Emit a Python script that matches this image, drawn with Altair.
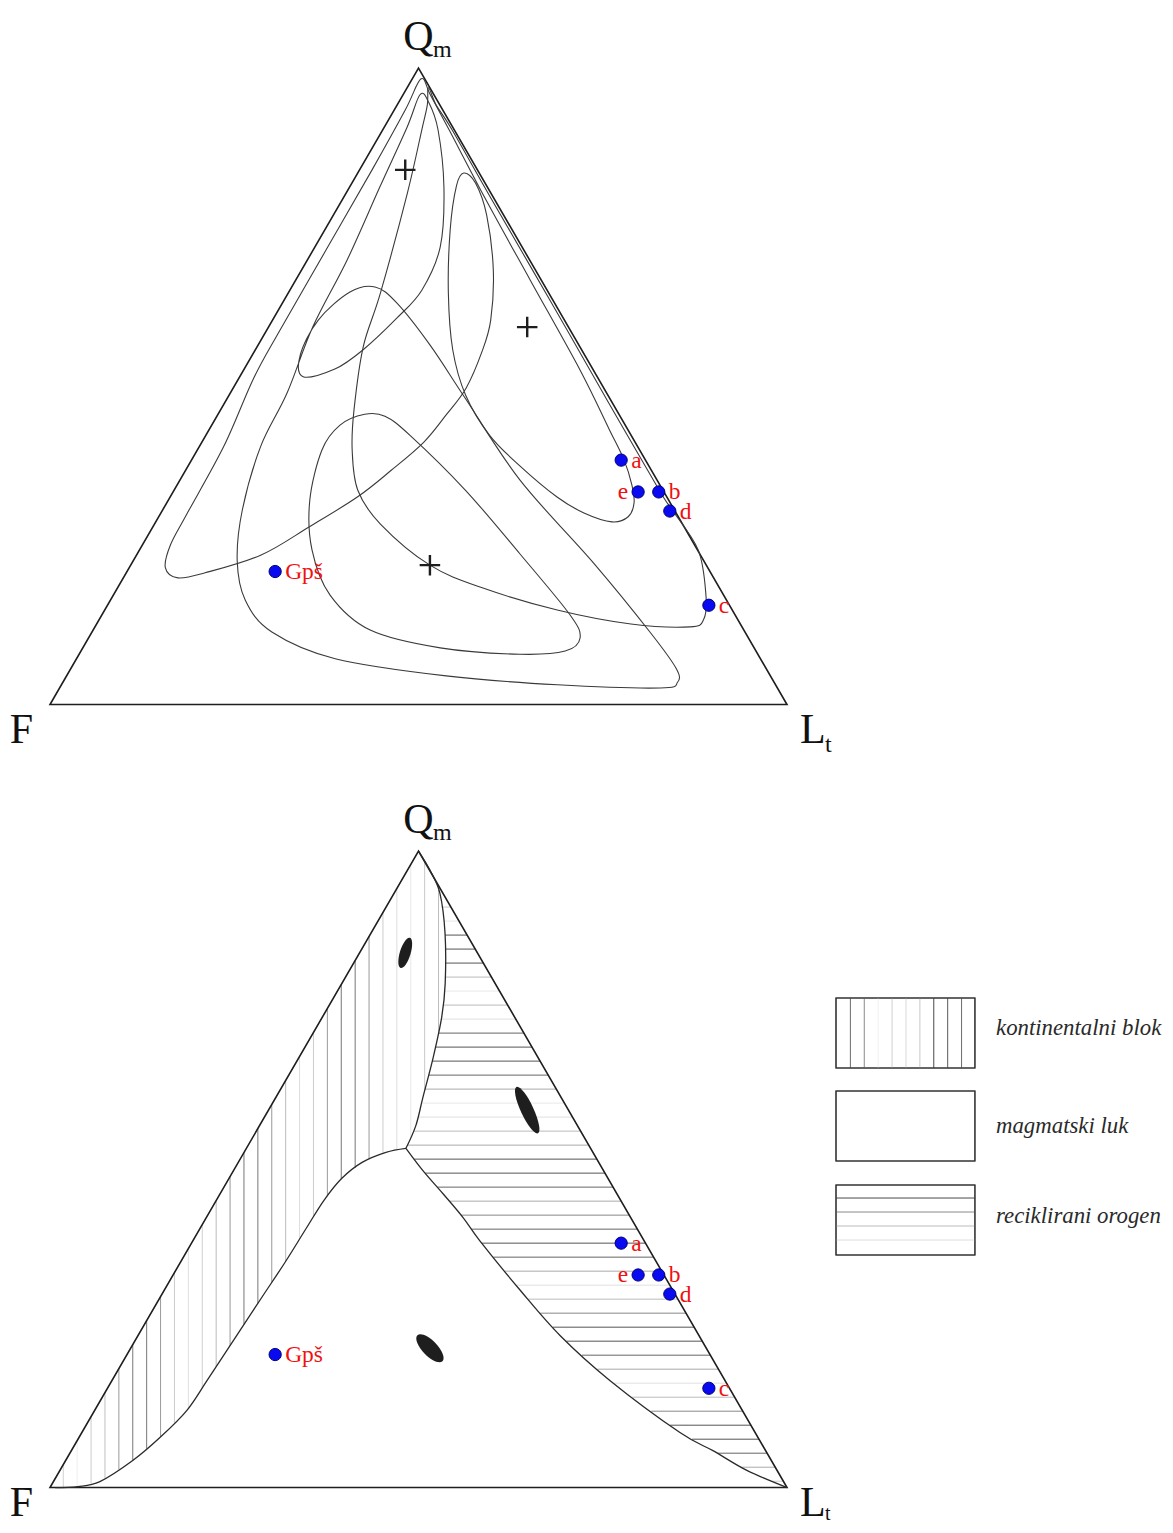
import altair as alt
import numpy as np
import pandas as pd

# ------------------------------------------------------------------ data
# sample compositions in % (F = 100 - Qm - Lt)
SAMPLE_NAMES = ["a", "b", "c", "d", "e", "Gpš"]
SAMPLE_QM = [38.4, 33.4, 15.6, 30.4, 33.4, 20.9]
SAMPLE_LT = [58.3, 65.9, 81.6, 68.9, 63.1, 20.1]
SAMPLE_SIDE = ["right", "right", "right", "right", "left", "right"]

# field means (+ in the upper diagram, black ellipses in the lower one)
MEAN_QM = [84.0, 59.3, 21.9]
MEAN_LT = [6.2, 35.1, 40.6]

# upper diagram: field outlines, (Qm, Lt) in %
FIELD_1 = [(98.3, 1.2), (95.8, 3.7), (90.3, 9.0), (79.3, 19.5), (66.7, 31.8), (52.6, 45.6),
           (43.3, 54.2), (38.4, 58.7), (34.5, 61.7), (31.7, 63.4), (29.5, 63.7), (28.7, 61.9),
           (30.1, 57.4), (32.6, 52.5), (37.5, 45.0), (42.3, 38.5), (48.6, 32.1), (55.7, 26.8),
           (64.7, 21.7), (74.6, 17.0), (81.5, 14.4), (83.5, 14.4), (81.9, 16.8), (76.9, 20.8),
           (68.3, 26.0), (60.4, 29.6), (55.4, 30.9), (49.7, 31.6), (45.5, 31.0), (41.2, 30.1),
           (36.8, 27.9), (32.6, 25.4), (27.9, 21.2), (23.5, 16.9), (20.7, 10.7), (19.9, 7.4),
           (21.5, 4.9), (25.1, 3.8), (29.9, 3.6), (40.6, 3.3), (51.3, 2.0), (58.8, 1.8),
           (71.4, 1.75), (84.0, 1.7), (93.4, 1.5)]
FIELD_2 = [(95.8, 2.3), (90.7, 3.1), (81.3, 4.1), (69.8, 5.4), (59.3, 6.0), (48.9, 7.7),
           (40.6, 8.3), (30.6, 10.8), (22.6, 14.1), (16.4, 18.3), (11.4, 24.4), (7.2, 35.1),
           (4.5, 51.5), (3.1, 67.3), (2.6, 81.5), (3.5, 83.4), (5.7, 82.1), (11.4, 75.7),
           (22.1, 62.8), (35.3, 46.1), (48.2, 32.2), (56.5, 23.3), (63.1, 15.5), (65.6, 11.3),
           (64.8, 8.3), (60.4, 6.2), (54.9, 6.5), (51.5, 8.6), (52.7, 12.3), (55.7, 14.6),
           (60.7, 16.7), (65.1, 17.9), (71.9, 17.0), (81.3, 12.8), (90.3, 7.5), (94.7, 4.0)]
FIELD_3 = [(94.2, 4.1), (90.3, 5.3), (80.4, 8.3), (64.7, 12.5), (56.2, 14.4), (46.3, 18.1),
           (40.0, 21.0), (33.7, 24.9), (28.4, 30.6), (21.9, 40.6), (18.3, 49.6), (14.85, 61.4),
           (12.65, 72.5), (12.2, 80.75), (13.4, 82.0), (17.2, 80.4), (24.3, 75.8), (30.6, 69.1),
           (33.7, 65.8), (47.8, 51.7), (63.6, 36.0), (79.3, 20.3), (90.3, 9.4), (94.2, 5.3),
           (96.9, 2.9)]
FIELD_4 = [(45.6, 19.9), (43.9, 17.4), (40.0, 16.9), (32.1, 19.2), (24.3, 23.4), (17.2, 29.4),
           (11.7, 37.6), (8.9, 48.5), (7.9, 59.8), (8.4, 65.7), (10.45, 66.7), (14.1, 63.5),
           (23.65, 51.95), (33.7, 39.5), (42.3, 27.7), (45.3, 22.8)]

# lower diagram: provenance field boundaries, (Qm, Lt) in %
BOUND_CB_RO = [(100.0, 0.0), (97.0, 3.05), (93.4, 6.2), (87.1, 10.05), (79.25, 14.0),
               (73.9, 16.2), (67.6, 18.2), (61.3, 19.95), (56.9, 21.2), (53.3, 21.65)]
BOUND_CB_MA = [(53.3, 21.65), (52.67, 19.25), (51.1, 16.8), (48.6, 15.3), (45.1, 14.6),
               (40.7, 14.4), (35.4, 14.2), (29.9, 13.8), (24.2, 13.4), (16.8, 12.9),
               (12.1, 12.5), (7.9, 11.0), (4.25, 9.1), (0.94, 6.3), (0.16, 3.7), (0.0, 0.7)]
BOUND_RO_MA = [(53.3, 21.65), (49.8, 25.7), (46.2, 30.2), (42.45, 34.8), (38.8, 38.9),
               (31.0, 48.3), (23.9, 57.25), (16.8, 67.6), (8.65, 81.15), (5.8, 87.05),
               (2.7, 93.2), (0.0, 100.0)]

LEGEND_LABELS = ["kontinentalni blok", "magmatski luk", "reciklirani orogen"]

# ------------------------------------------------------------------ styling / layout
PANEL_DY = 123.02          # vertical shift of lower diagram (plot units)
X_DOMAIN = [-5.699, 151.29]
Y_DOMAIN = [-128.90, 109.43]
SERIF = "Liberation Serif"
LINE_COL = "#3a3a3a"

V_STEP, V_START = 1.886, 1.80
H_STEP, H_START = 2.2, 91.2
V_SHADES = ["#d0d0d0", "#eeeeee", "#cccccc", "#c0c0c0", "#999999", "#777777", "#777777",
            "#999999", "#cccccc", "#e0e0e0", "#d0d0d0", "#bbbbbb", "#999999", "#777777",
            "#777777", "#999999", "#bbbbbb", "#dddddd", "#cccccc", "#999999", "#777777",
            "#777777", "#999999", "#cccccc", "#dddddd", "#e8e8e8", "#c8c8c8", "#bbbbbb"]
H_SHADES = ["#c8c8c8", "#e8e8e8", "#555555", "#555555", "#555555", "#bbbbbb", "#e8e8e8",
            "#bbbbbb", "#e0e0e0", "#666666", "#555555", "#555555", "#666666", "#aaaaaa",
            "#e8e8e8", "#e0e0e0", "#bbbbbb", "#aaaaaa", "#555555", "#555555", "#666666",
            "#aaaaaa", "#888888", "#666666", "#555555", "#666666", "#aaaaaa", "#e0e0e0",
            "#bbbbbb", "#888888", "#555555", "#555555", "#666666", "#aaaaaa", "#e0e0e0",
            "#bbbbbb", "#888888", "#555555", "#555555", "#666666", "#aaaaaa", "#cccccc"]


def tern(qm, lt):
    return lt + qm / 2.0, qm


def panel_y(q, panel):
    return q - PANEL_DY * panel


# ------------------------------------------------------------------ frames
rows = []
for p in (0, 1):
    for i, (q, l) in enumerate([(0, 0), (0, 100), (100, 0)]):
        X, Q = tern(q, l)
        rows.append(dict(panel=p, i=i, X=X, Y=panel_y(Q, p)))
tri_df = pd.DataFrame(rows)

rows = []
for name, pts in [("f1", FIELD_1), ("f2", FIELD_2), ("f3", FIELD_3), ("f4", FIELD_4)]:
    for i, (q, l) in enumerate(pts):
        X, Q = tern(q, l)
        rows.append(dict(curve=name, i=i, X=X, Y=panel_y(Q, 0)))
field_df = pd.DataFrame(rows)

rows = []
for name, pts in [("cbro", BOUND_CB_RO), ("cbma", BOUND_CB_MA), ("roma", BOUND_RO_MA)]:
    for i, (q, l) in enumerate(pts):
        X, Q = tern(q, l)
        rows.append(dict(curve=name, i=i, X=X, Y=panel_y(Q, 1)))
bound_df = pd.DataFrame(rows)

# hatching, clipped to the fields
cbro = np.array([tern(q, l) for q, l in BOUND_CB_RO])
cbma = np.array([tern(q, l) for q, l in BOUND_CB_MA])
roma = np.array([tern(q, l) for q, l in BOUND_RO_MA])
imax = int(np.argmax(cbro[:, 0]))
upper = cbro[: imax + 1]
lower = cbro[imax:][::-1]
cbma_r = cbma[::-1]
XJ, QJ = cbro[-1]
rows = []
for k, shade in enumerate(V_SHADES):
    Xh = V_START + k * V_STEP
    if Xh >= cbro[:, 0].max():
        break
    top = 2 * Xh if Xh <= 50 else np.interp(Xh, upper[:, 0], upper[:, 1])
    if Xh <= XJ:
        bot = np.interp(Xh, cbma_r[:, 0], cbma_r[:, 1])
    else:
        bot = np.interp(Xh, lower[:, 0], lower[:, 1])
    if top > bot:
        rows.append(dict(X=Xh, X2=Xh, Y=panel_y(bot, 1), Y2=panel_y(top, 1), shade=shade))
cbro_q = cbro[::-1]
roma_q = roma[::-1]
for j, shade in enumerate(H_SHADES):
    Qh = H_START - j * H_STEP
    if Qh <= 0:
        break
    if Qh >= QJ:
        left = np.interp(Qh, cbro_q[:, 1], cbro_q[:, 0])
    else:
        left = np.interp(Qh, roma_q[:, 1], roma_q[:, 0])
    right = 100 - Qh / 2
    if right > left:
        rows.append(dict(X=left, X2=right, Y=panel_y(Qh, 1), Y2=panel_y(Qh, 1), shade=shade))
hatch_df = pd.DataFrame(rows)

rows = []
for p in (0, 1):
    for n, q, l, s in zip(SAMPLE_NAMES, SAMPLE_QM, SAMPLE_LT, SAMPLE_SIDE):
        X, Q = tern(q, l)
        rows.append(dict(name=n, side=s, X=X, Y=panel_y(Q, p)))
samp_df = pd.DataFrame(rows)

rows = []
for q, l in zip(MEAN_QM, MEAN_LT):
    X, Q = tern(q, l)
    rows.append(dict(X=X, Y=panel_y(Q, 0)))
plus_df = pd.DataFrame(rows)

BLOB_STYLE = [(0.34, 1000, 17), (0.25, 2600, 335), (0.42, 1300, 316)]
rows = []
for (q, l), (rx, sz, ang) in zip(zip(MEAN_QM, MEAN_LT), BLOB_STYLE):
    X, Q = tern(q, l)
    path = f"M0,-1A{rx},1,0,1,1,0,1A{rx},1,0,1,1,0,-1Z"
    rows.append(dict(X=X, Y=panel_y(Q, 1), shp=path, sz=sz, ang=ang))
blob_df = pd.DataFrame(rows)

# legend (lower right) in plot units
LEG_X1, LEG_X2 = 106.65, 125.5
LEG_BOX_Y = [(-46.11, -57.11), (-60.72, -71.72), (-75.49, -86.49)]
LEG_TEXT_X = 128.36
LEG_TEXT_Y = [-51.95, -67.25, -81.45]
box_df = pd.DataFrame([dict(X=LEG_X1, X2=LEG_X2, Y=a, Y2=b) for a, b in LEG_BOX_Y])
leg_v_shades = ["#6a6a6a", "#8a8a8a", "#f0f0f0", "#d0d0d0", "#d8d8d8", "#c8c8c8",
                "#4a4a4a", "#5a5a5a", "#6a6a6a"]
leg_h_shades = ["#4a4a4a", "#8a8a8a", "#bbbbbb", "#dddddd"]
rows = []
for k, sh in enumerate(leg_v_shades):
    xv = 108.6 + k * V_STEP
    rows.append(dict(X=xv, X2=xv, Y=LEG_BOX_Y[0][0], Y2=LEG_BOX_Y[0][1], shade=sh))
for k, sh in enumerate(leg_h_shades):
    yv = -77.53 - k * H_STEP
    rows.append(dict(X=LEG_X1, X2=LEG_X2, Y=yv, Y2=yv, shade=sh))
leg_line_df = pd.DataFrame(rows)
leg_text_df = pd.DataFrame(dict(X=[LEG_TEXT_X] * 3, Y=LEG_TEXT_Y, t=LEGEND_LABELS))

vert_rows = []
for p in (0, 1):
    for key, (q, l) in [("Q", (100, 0)), ("F", (0, 0)), ("L", (0, 100))]:
        X, Q = tern(q, l)
        vert_rows.append(dict(key=key, panel=p, X=X, Y=panel_y(Q, p)))
vert_df = pd.DataFrame(vert_rows)

# ------------------------------------------------------------------ chart
xs = alt.Scale(domain=X_DOMAIN, nice=False, zero=False)
ys = alt.Scale(domain=Y_DOMAIN, nice=False, zero=False)
EX = alt.X("X:Q", scale=xs, axis=None)
EY = alt.Y("Y:Q", scale=ys, axis=None)

layers = []
layers.append(alt.Chart(hatch_df).mark_rule(strokeWidth=1).encode(
    x=EX, y=EY, x2="X2:Q", y2="Y2:Q", color=alt.Color("shade:N", scale=None)))
layers.append(alt.Chart(tri_df).mark_line(interpolate="linear-closed", color="#1e1e1e",
                                          strokeWidth=1.6).encode(
    x=EX, y=EY, detail="panel:N", order="i:Q"))
layers.append(alt.Chart(field_df).mark_line(interpolate="cardinal-closed", color=LINE_COL,
                                            strokeWidth=1.1).encode(
    x=EX, y=EY, detail="curve:N", order="i:Q"))
layers.append(alt.Chart(bound_df).mark_line(interpolate="cardinal", color="#2a2a2a",
                                            strokeWidth=1.3).encode(
    x=EX, y=EY, detail="curve:N", order="i:Q"))
layers.append(alt.Chart(plus_df).mark_point(shape="M-1,0H1M0,-1V1", size=420, filled=False,
                                            color="#1e1e1e", strokeWidth=2.4, opacity=1).encode(
    x=EX, y=EY))
layers.append(alt.Chart(blob_df).mark_point(filled=True, color="#1e1e1e", opacity=1).encode(
    x=EX, y=EY, shape=alt.Shape("shp:N", scale=None), size=alt.Size("sz:Q", scale=None),
    angle=alt.Angle("ang:Q", scale=None)))
layers.append(alt.Chart(samp_df).mark_point(filled=True, size=150, fill="#0a0af0",
                                            stroke="#00007a", strokeWidth=1, opacity=1).encode(
    x=EX, y=EY))
layers.append(alt.Chart(samp_df).transform_filter("datum.side == 'right'").mark_text(
    font=SERIF, fontSize=23.5, color="#f01010", align="left", baseline="alphabetic",
    dx=10, dy=7.5).encode(x=EX, y=EY, text="name:N"))
layers.append(alt.Chart(samp_df).transform_filter("datum.side == 'left'").mark_text(
    font=SERIF, fontSize=23.5, color="#f01010", align="right", baseline="alphabetic",
    dx=-10, dy=7.5).encode(x=EX, y=EY, text="name:N"))
# vertex labels (the lower F / Lt labels sit a little higher so they stay on the page)
vl = [("Q", "Q", 42, "center", 0, -18, 0), ("Q", "m", 24, "left", 14.5, -11.5, 0),
      ("F", "F", 42, "center", -28.5, 38.5, 0), ("L", "L", 42, "left", 13, 38.5, 0),
      ("L", "t", 24, "left", 38, 47.5, 0),
      ("Q", "Q", 42, "center", 0, -18, 1), ("Q", "m", 24, "left", 14.5, -11.5, 1),
      ("F", "F", 42, "center", -28.5, 28.5, 1), ("L", "L", 42, "left", 13, 28.5, 1),
      ("L", "t", 20, "left", 38, 32.5, 1)]
for key, txt, fs, al, dx, dy, p in vl:
    layers.append(alt.Chart(vert_df).transform_filter(
        f"datum.key == '{key}' && datum.panel == {p}").mark_text(
        font=SERIF, fontSize=fs, color="#111111", align=al, baseline="alphabetic",
        dx=dx, dy=dy, text=txt).encode(x=EX, y=EY))
# legend
layers.append(alt.Chart(box_df).mark_rect(fill="white", stroke="#333333", strokeWidth=1.1).encode(
    x=EX, y=EY, x2="X2:Q", y2="Y2:Q"))
layers.append(alt.Chart(leg_line_df).mark_rule(strokeWidth=1).encode(
    x=EX, y=EY, x2="X2:Q", y2="Y2:Q", color=alt.Color("shade:N", scale=None)))
layers.append(alt.Chart(box_df).mark_rect(fill="transparent", stroke="#333333", strokeWidth=1.1).encode(
    x=EX, y=EY, x2="X2:Q", y2="Y2:Q"))
layers.append(alt.Chart(leg_text_df).mark_text(
    font=SERIF, fontSize=22.8, fontStyle="italic", color="#2a2a2a", align="left",
    baseline="alphabetic").encode(x=EX, y=EY, text="t:N"))

chart = alt.layer(*layers).properties(
    width=1157, height=1517,
    autosize=alt.AutoSizeParams(type="none"),
    padding=0,
).configure_view(stroke=None)

chart.save("out.html", embed_options={"renderer": "svg", "actions": False})
